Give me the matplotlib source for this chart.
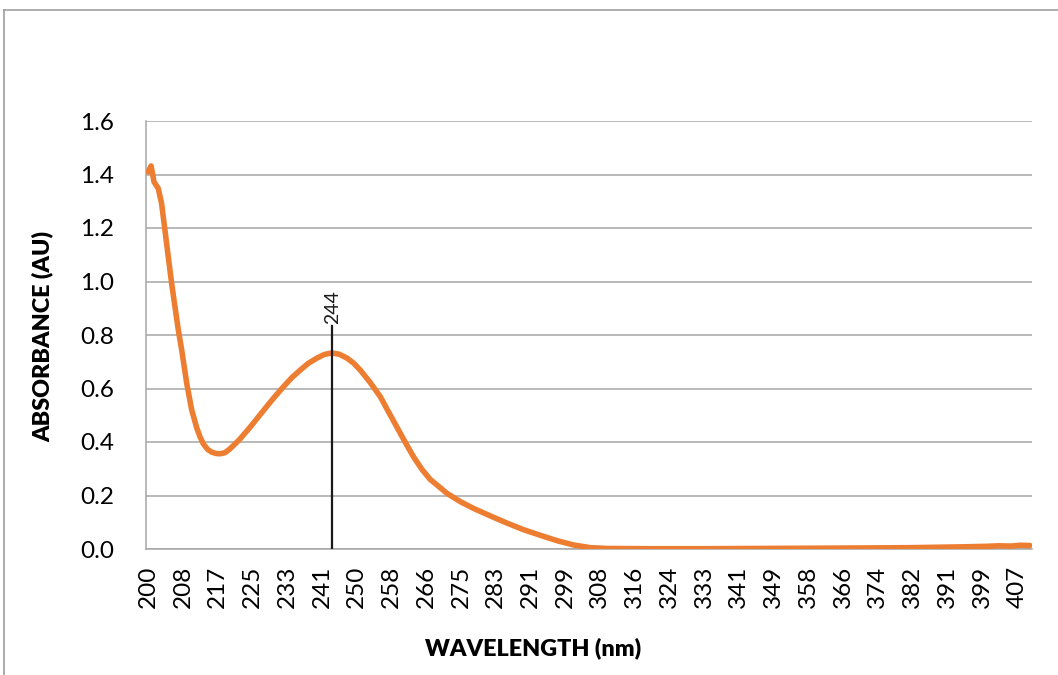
import matplotlib
matplotlib.use("Agg")
import matplotlib.pyplot as plt
from matplotlib.lines import Line2D

# ---- data ----
wavelength = [200.0, 200.7, 201.4, 202.4, 203.2, 204.0, 204.8, 205.6, 206.4, 207.2,
              208.0, 209.2, 210.4, 211.6, 212.4, 213.2, 214.2, 215.2, 216.2, 217.2,
              218.3, 219.5, 221.9, 224.3, 226.3, 228.3, 230.3, 232.3, 234.3, 236.3,
              238.2, 240.2, 242.0, 243.8, 245.6, 247.4, 249.0, 250.6, 253.0, 255.4,
              257.3, 259.3, 261.3, 263.3, 265.3, 267.3, 269.7, 271.3, 274.5, 277.6,
              281.6, 285.6, 289.6, 293.6, 297.6, 301.5, 305.5, 309.5, 320.0, 332.0,
              345.0, 360.0, 372.0, 382.0, 394.0, 400.0, 403.0, 406.0, 408.0, 410.4]
absorbance = [1.410, 1.432, 1.372, 1.348, 1.292, 1.192, 1.092, 0.993, 0.905, 0.818,
              0.744, 0.619, 0.519, 0.452, 0.418, 0.392, 0.372, 0.362, 0.357, 0.356,
              0.360, 0.374, 0.411, 0.455, 0.494, 0.533, 0.571, 0.607, 0.641, 0.669,
              0.694, 0.713, 0.727, 0.733, 0.728, 0.714, 0.695, 0.669, 0.622, 0.569,
              0.514, 0.457, 0.400, 0.345, 0.298, 0.260, 0.229, 0.208, 0.177, 0.152,
              0.124, 0.097, 0.072, 0.051, 0.031, 0.015, 0.005, 0.002, 0.001, 0.001,
              0.002, 0.003, 0.004, 0.005, 0.008, 0.010, 0.012, 0.011, 0.014, 0.013]

tick_labels = ["200", "208", "217", "225", "233", "241", "250", "258", "266", "275",
               "283", "291", "299", "308", "316", "324", "333", "341", "349", "358",
               "366", "374", "382", "391", "399", "407"]
y_ticks = [0.0, 0.2, 0.4, 0.6, 0.8, 1.0, 1.2, 1.4, 1.6]

peak_label = "244"
peak_x = 243.8
peak_top = 0.835

x_label = "WAVELENGTH (nm)"
y_label = "ABSORBANCE (AU)"

# ---- layout ----
W, H = 1058, 675
fig = plt.figure(figsize=(W / 100, H / 100), dpi=100)
plt.rcParams['font.family'] = ['Lato', 'DejaVu Sans']

ax = fig.add_axes([146 / W, 1 - 549 / H, (1032 - 146) / W, (549 - 121) / H])

step = 1.0363  # nm per category on the category axis
ax.set_xlim(200 - 0.5 * step, 200 + 203.5 * step)
ax.set_ylim(0, 1.6)

ax.plot(wavelength, absorbance, color="#ED7D31", lw=4.0,
        solid_capstyle="round", solid_joinstyle="round", zorder=3)

ax.plot([peak_x, peak_x], [0, peak_top], color="#1A1A1A", lw=1.6, zorder=4)
ax.text(peak_x + 0.3, peak_top + 0.005, peak_label, rotation=90, ha="center",
        va="bottom", fontsize=14, color="#1A1A1A")

ax.set_xticks([200 + 8 * k * step for k in range(len(tick_labels))])
ax.set_xticklabels(tick_labels, rotation=90, fontsize=17.5)
ax.set_yticks(y_ticks)
ax.set_yticklabels([f"{v:.1f}" for v in y_ticks], fontsize=17.5)
ax.tick_params(axis="both", length=0, colors="#000000")
ax.tick_params(axis="y", pad=23)
ax.tick_params(axis="x", pad=12)

ax.grid(axis="y", color="#A6A6A6", lw=1.1)
ax.set_axisbelow(True)
for side in ["top", "right"]:
    ax.spines[side].set_visible(False)
for side in ["left", "bottom"]:
    ax.spines[side].set_color("#A6A6A6")
    ax.spines[side].set_linewidth(1.1)

fig.text(533 / W, 1 - 648 / H, x_label, ha="center", va="center",
         fontsize=16.8, fontweight="heavy")
fig.text(43 / W, 1 - 337 / H, y_label, ha="center", va="center", rotation=90,
         fontsize=16.8, fontweight="heavy")

# chart border (top and left visible)
fig.add_artist(Line2D([4 / W, 1.0], [1 - 10 / H, 1 - 10 / H], color="#A0A0A0", lw=1.2))
fig.add_artist(Line2D([4 / W, 4 / W], [0, 1 - 10 / H], color="#A0A0A0", lw=1.2))

fig.savefig("out.png", dpi=100)
